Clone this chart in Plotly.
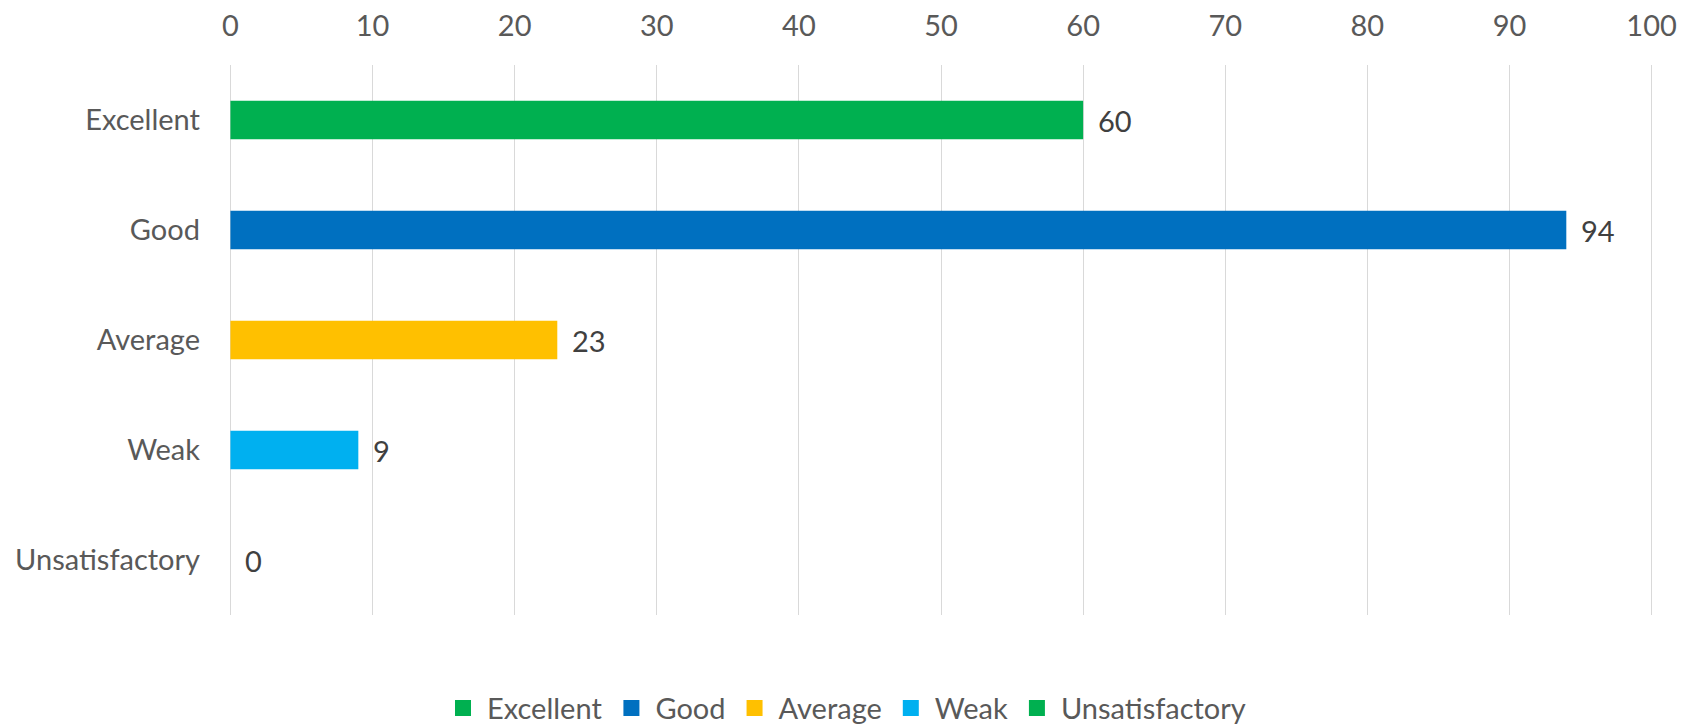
import plotly.graph_objects as go

categories = ["Excellent", "Good", "Average", "Weak", "Unsatisfactory"]
values = [60, 94, 23, 9, 0]
colors = ["#00B050", "#0070C0", "#FFC000", "#00B0F0", "#00B050"]
x_ticks = [0, 10, 20, 30, 40, 50, 60, 70, 80, 90, 100]

FONT = "Lato"
FS = 29
fig = go.Figure()
for cat, val, col in zip(categories, values, colors):
    fig.add_trace(go.Bar(
        y=[cat], x=[val], name=cat, orientation="h", showlegend=False,
        marker=dict(color=col, line=dict(width=0)),
    ))
    fig.add_annotation(x=val, y=cat, xref="x", yref="y", text=str(val),
                       showarrow=False, xanchor="left", xshift=13,
                       font=dict(family=FONT, size=FS, color="#404040"))
# legend entries (square swatches)
for cat, col in zip(categories, colors):
    fig.add_trace(go.Scatter(
        x=[None], y=[None], mode="markers", name=cat, showlegend=True,
        marker=dict(symbol="square", size=16, color=col),
    ))

fig.update_layout(
    width=1690, height=724,
    paper_bgcolor="white", plot_bgcolor="white",
    margin=dict(l=229, r=37, t=65, b=109, autoexpand=False),
    barmode="overlay", bargap=0.65,
    font=dict(family=FONT, size=FS, color="#595959"),
    legend=dict(orientation="h", xref="container", yref="container",
                x=0.5, xanchor="center", y=0.022, yanchor="middle",
                font=dict(family=FONT, size=FS, color="#595959"),
                itemwidth=38, traceorder="normal", tracegroupgap=0),
)
fig.update_xaxes(side="top", range=[-0.1, 100.1], tickvals=x_ticks,
                 ticktext=[str(t) for t in x_ticks], automargin=False,
                 showgrid=True, gridcolor="#D9D9D9", gridwidth=1.3,
                 zeroline=False, showline=False, ticks="", ticklabelstandoff=22,
                 tickfont=dict(family=FONT, size=FS, color="#595959"))
fig.update_yaxes(categoryorder="array", categoryarray=categories[::-1],
                 showgrid=False, zeroline=False, showline=False, ticks="",
                 ticklabelstandoff=28, automargin=False,
                 tickfont=dict(family=FONT, size=FS, color="#595959"))

fig.write_html("out.html", config={"displayModeBar": False},
               post_script="document.body.style.margin='0';")
